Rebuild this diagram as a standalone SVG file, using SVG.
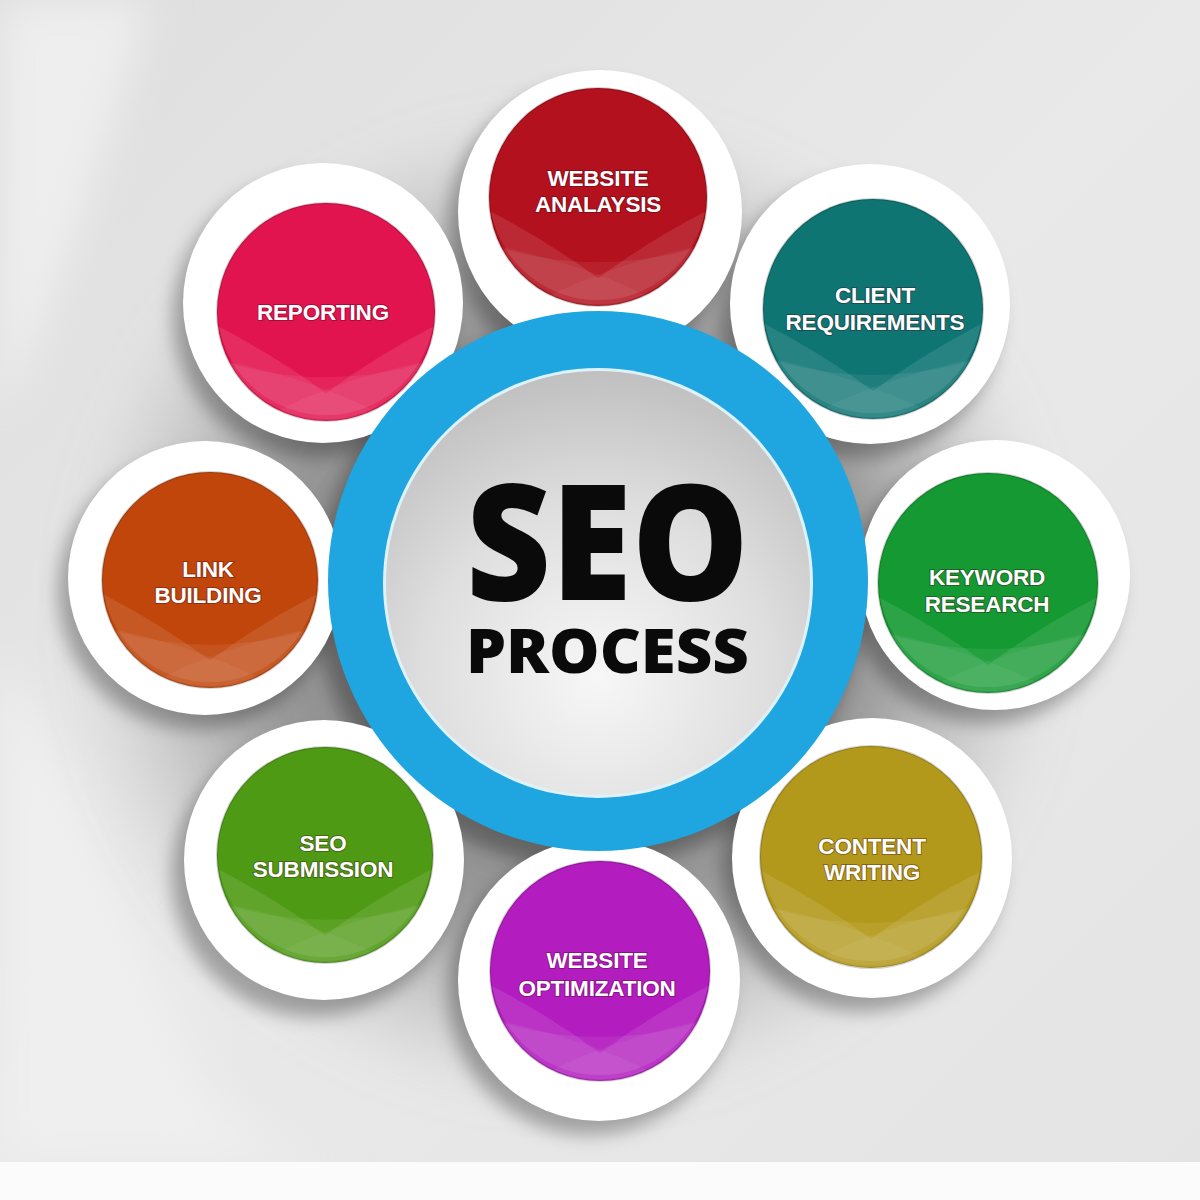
<svg xmlns="http://www.w3.org/2000/svg" width="1200" height="1200" viewBox="0 0 1200 1200">
<style>
.ring{fill:#ffffff;}
.lbl{font-family:"Liberation Sans",Arial,sans-serif;font-weight:700;font-size:22.5px;fill:#ffffff;text-anchor:middle;stroke:rgba(60,0,20,0.35);stroke-width:2px;paint-order:stroke;letter-spacing:-0.2px;}
.edge{stroke:rgba(0,0,0,0.18);stroke-width:2;}
</style>
<defs>
<linearGradient id="bg" x1="0" y1="0" x2="1" y2="1">
<stop offset="0" stop-color="#dedede"/>
<stop offset="0.5" stop-color="#e9e9e9"/>
<stop offset="1" stop-color="#e4e4e4"/>
</linearGradient>
<radialGradient id="core" cx="0.5" cy="0.72" r="0.75">
<stop offset="0" stop-color="#f7f7f7"/>
<stop offset="0.55" stop-color="#dedede"/>
<stop offset="1" stop-color="#bdbdbd"/>
</radialGradient>
<radialGradient id="halo" cx="0.5" cy="0.5" r="0.5">
<stop offset="0" stop-color="#555555" stop-opacity="0.85"/>
<stop offset="0.62" stop-color="#777777" stop-opacity="0.7"/>
<stop offset="0.85" stop-color="#999999" stop-opacity="0.3"/>
<stop offset="1" stop-color="#aaaaaa" stop-opacity="0"/>
</radialGradient>
<filter id="blur20" x="-30%" y="-30%" width="160%" height="160%"><feGaussianBlur stdDeviation="20"/></filter>
<filter id="blur8" x="-30%" y="-30%" width="160%" height="160%"><feGaussianBlur stdDeviation="9"/></filter>
<g id="wave">
<path d="M-108,15 Q-50,45 0,82 Q50,45 108,15 A110 110 0 0 1 -108 15 Z" fill="#ffffff" fill-opacity="0.1"/>
<path d="M-96,52 Q0,80 96,52 A110 110 0 0 1 -96 52 Z" fill="#ffffff" fill-opacity="0.07"/>
<path d="M-98,50 Q-10,70 50,100 A110 110 0 0 1 -98 50 Z" fill="#ffffff" fill-opacity="0.05"/>
<path d="M98,50 Q10,70 -50,100 A110 110 0 0 0 98 50 Z" fill="#ffffff" fill-opacity="0.05"/>
</g>
</defs>

<g id="background">
<rect x="0" y="0" width="1200" height="1200" fill="url(#bg)"/>
<path d="M0,0 L150,0 C110,140 60,300 0,420 Z" fill="#eeeeee" filter="url(#blur20)"/>
<path d="M0,650 C70,760 130,900 190,1060 C220,1130 290,1160 360,1160 L0,1160 Z" fill="#efefef" filter="url(#blur20)"/>
<circle cx="565" cy="610" r="500" fill="url(#halo)" filter="url(#blur20)"/>
<rect x="0" y="1162" width="1200" height="38" fill="#fbfbfb"/>
</g>

<g id="shadows" fill="#000000" fill-opacity="0.3" filter="url(#blur8)">
<circle cx="590" cy="226" r="142"/>
<circle cx="860" cy="318" r="140"/>
<circle cx="985" cy="589" r="135"/>
<circle cx="862" cy="872" r="140"/>
<circle cx="589" cy="994" r="141"/>
<circle cx="312" cy="877" r="140"/>
<circle cx="195" cy="592" r="137"/>
<circle cx="313" cy="317" r="140"/>
<circle cx="588" cy="596" r="272"/>
</g>

<g id="n-website-analysis">
<circle class="ring" cx="600" cy="212" r="142"/>
<circle class="edge" cx="598" cy="197" r="109" fill="#b3111d"/>
<use href="#wave" transform="translate(598 197) scale(0.99)"/>
<text class="lbl"><tspan x="598" y="186">WEBSITE</tspan><tspan x="598" y="212">ANALAYSIS</tspan></text>
</g>

<g id="n-client-requirements">
<circle class="ring" cx="870" cy="304" r="140"/>
<circle class="edge" cx="873" cy="309" r="110" fill="#0e7573"/>
<use href="#wave" transform="translate(873 309)"/>
<text class="lbl"><tspan x="875" y="303">CLIENT</tspan><tspan x="875" y="330">REQUIREMENTS</tspan></text>
</g>

<g id="n-keyword-research">
<circle class="ring" cx="995" cy="575" r="135"/>
<circle class="edge" cx="988" cy="583" r="110" fill="#159933"/>
<use href="#wave" transform="translate(988 583)"/>
<text class="lbl"><tspan x="987" y="585">KEYWORD</tspan><tspan x="987" y="612">RESEARCH</tspan></text>
</g>

<g id="n-content-writing">
<circle class="ring" cx="872" cy="858" r="140"/>
<circle class="edge" cx="871" cy="857" r="111" fill="#b3991b"/>
<use href="#wave" transform="translate(871 857)"/>
<text class="lbl"><tspan x="872" y="854">CONTENT</tspan><tspan x="872" y="880">WRITING</tspan></text>
</g>

<g id="n-website-optimization">
<circle class="ring" cx="599" cy="980" r="141"/>
<circle class="edge" cx="600" cy="971" r="110" fill="#b31cbf"/>
<use href="#wave" transform="translate(600 971)"/>
<text class="lbl"><tspan x="597" y="968">WEBSITE</tspan><tspan x="597" y="996">OPTIMIZATION</tspan></text>
</g>

<g id="n-seo-submission">
<circle class="ring" cx="324" cy="860" r="140"/>
<circle class="edge" cx="325" cy="855" r="108" fill="#4e9a14"/>
<use href="#wave" transform="translate(325 855) scale(0.98)"/>
<text class="lbl"><tspan x="323" y="851">SEO</tspan><tspan x="323" y="877">SUBMISSION</tspan></text>
</g>

<g id="n-link-building">
<circle class="ring" cx="205" cy="578" r="137"/>
<circle class="edge" cx="210" cy="580" r="108" fill="#c0460c"/>
<use href="#wave" transform="translate(210 580) scale(0.98)"/>
<text class="lbl"><tspan x="208" y="577">LINK</tspan><tspan x="208" y="603">BUILDING</tspan></text>
</g>

<g id="n-reporting">
<circle class="ring" cx="323" cy="303" r="140"/>
<circle class="edge" cx="326" cy="312" r="109" fill="#e2144f"/>
<use href="#wave" transform="translate(326 312) scale(0.99)"/>
<text class="lbl" x="323" y="320">REPORTING</text>
</g>

<g id="n-seo-process">
<circle cx="598" cy="581" r="270" fill="#1fa6e0"/>
<circle cx="598" cy="583" r="215" fill="#ffffff" fill-opacity="0.85"/>
<circle cx="598" cy="583" r="212" fill="url(#core)"/>
<text font-family="'Open Sans','Liberation Sans',Arial,sans-serif" font-weight="800" fill="#0a0a0a"><tspan x="466" y="600" font-size="162" textLength="283" lengthAdjust="spacingAndGlyphs">SEO</tspan><tspan x="466" y="673" font-size="62" textLength="283" lengthAdjust="spacingAndGlyphs">PROCESS</tspan></text>
</g>

<g id="connectors"></g>
</svg>
